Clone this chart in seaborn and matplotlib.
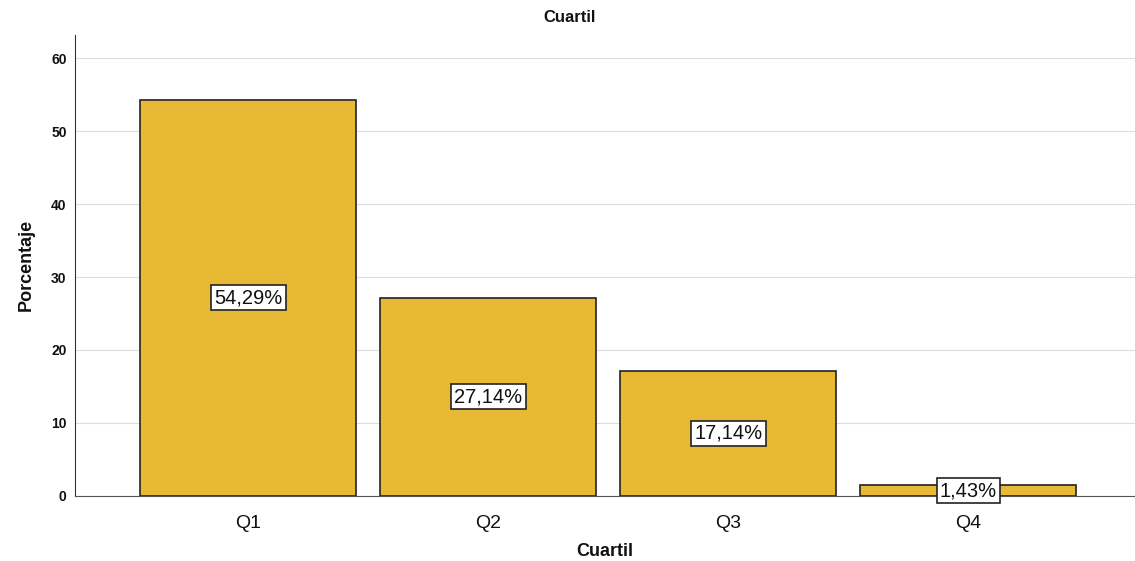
import numpy as np
import pandas as pd
import matplotlib
matplotlib.use('Agg')
import matplotlib.pyplot as plt
import seaborn as sns

# datos
cuartiles = ['Q1', 'Q2', 'Q3', 'Q4']
porcentaje = [54.29, 27.14, 17.14, 1.43]
etiquetas = ['54,29%', '27,14%', '17,14%', '1,43%']

df = pd.DataFrame({'Cuartil': cuartiles, 'Porcentaje': porcentaje})

sns.set_style('white')
plt.rcParams['font.family'] = ['Liberation Sans', 'DejaVu Sans']

fig = plt.figure(figsize=(11.35, 5.61), dpi=100)
ax = fig.add_axes([0.066, 0.116, 0.934, 0.822])

sns.barplot(data=df, x='Cuartil', y='Porcentaje', color='#E8B935', saturation=1,
            edgecolor='#222222', linewidth=1.2, width=0.9, ax=ax, zorder=3)

# etiquetas en el centro de cada barra
for i, (v, t) in enumerate(zip(porcentaje, etiquetas)):
    ax.text(i, v / 2, t, ha='center', va='center', fontsize=14.5, color='#111111', zorder=5,
            bbox=dict(boxstyle='square,pad=0.15', facecolor='white', edgecolor='#222222', linewidth=1.2))

ax.set_ylim(0, 63.2)
ax.set_xlim(-0.723, 3.694)
ax.set_yticks([0, 10, 20, 30, 40, 50, 60])
ax.yaxis.grid(True, color='#dddddd', linewidth=0.8, zorder=0)
ax.tick_params(axis='y', labelsize=10, length=0, pad=6, labelcolor='#111111')
for lbl in ax.get_yticklabels():
    lbl.set_fontweight('bold')
ax.tick_params(axis='x', labelsize=14, length=0, pad=14, labelcolor='#111111')

sns.despine(ax=ax, top=True, right=True)
ax.spines['left'].set_color('#333333')
ax.spines['bottom'].set_color('#555555')

ax.set_xlabel('Cuartil', fontsize=13, fontweight='bold', labelpad=8, color='#111111')
ax.set_ylabel('Porcentaje', fontsize=13, fontweight='bold', labelpad=12, color='#111111')
fig.text(0.502, 0.968, 'Cuartil', ha='center', va='center', fontsize=12, fontweight='bold', color='#111111')

plt.savefig('out.png', dpi=100)
